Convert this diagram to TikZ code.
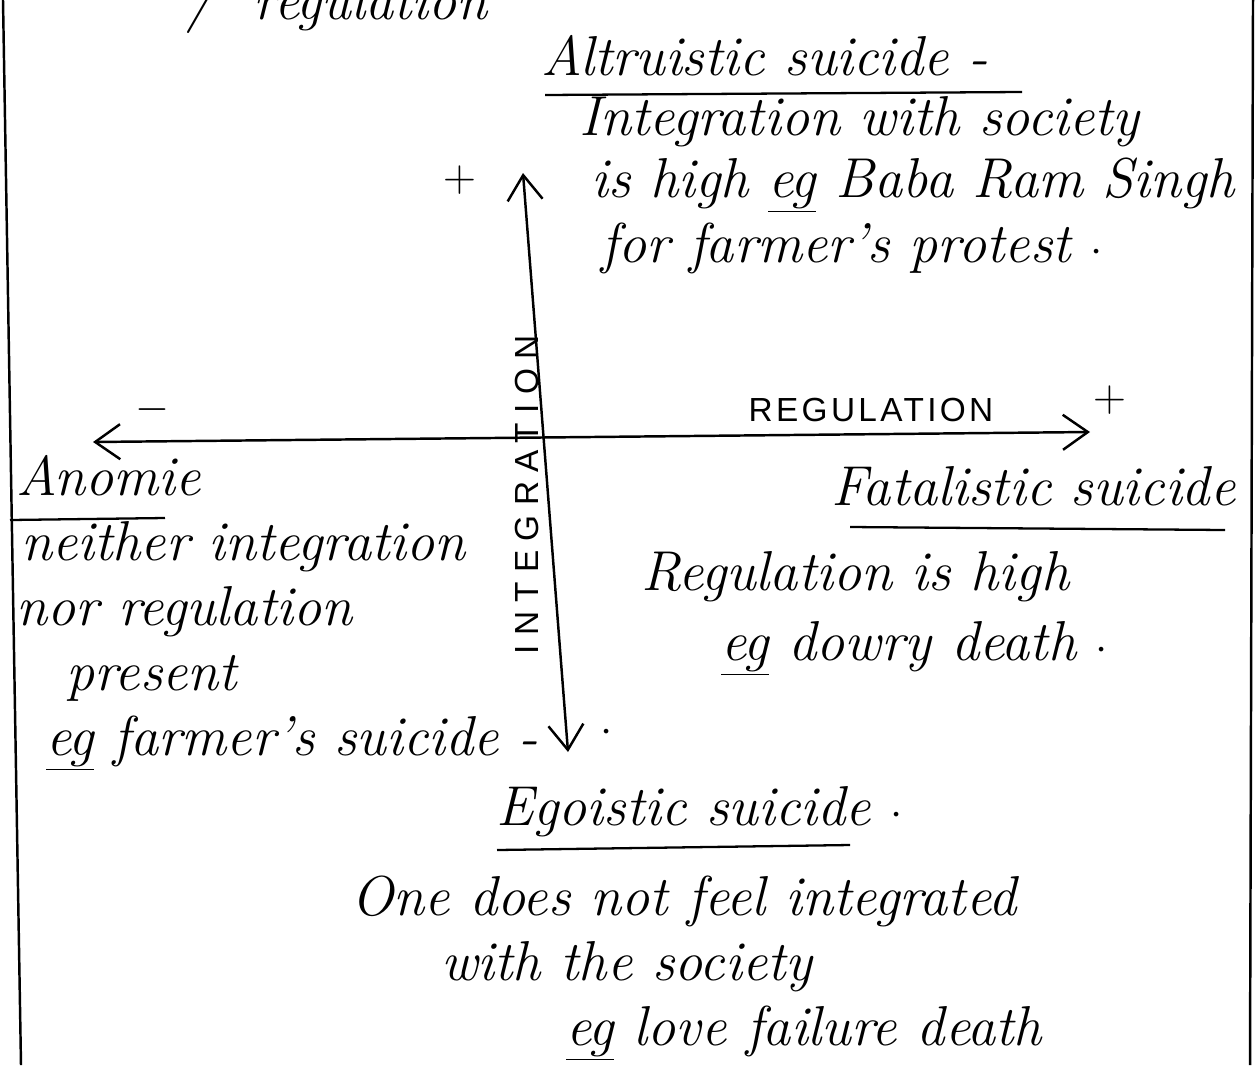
\documentclass[tikz,border=0pt]{standalone}
\usepackage{fontspec}
\usetikzlibrary{arrows.meta,calc,positioning}
\newfontfamily\axisfont{Liberation Sans}

\tikzset{
  hand/.style={anchor=base west,inner sep=0pt,font=\itshape\fontsize{32}{38}\selectfont},
  axislabel/.style={inner sep=0pt,font=\axisfont\fontsize{19}{23}\selectfont},
  sign/.style={inner sep=0pt,font=\fontsize{26}{30}\selectfont},
  uline/.style={line width=1.3pt,-}
}

\begin{document}
\begin{tikzpicture}[x=0.02cm,y=-0.02cm,line width=1.4pt,>={Straight Barb[length=5mm,width=7mm]}]
		\useasboundingbox (0,0) rectangle (1256,1065);
		% page edges
		\draw (3,0) -- (21,1065);
		\draw (1253,0) -- (1250,1065);
		% cut off line at the top
		\node[hand] (top) at (185,19) {/ \ regulation};

		% axes
		\coordinate (itop) at (523,173);
		\coordinate (ibot) at (568,752);
		\coordinate (rleft) at (93,442);
		\coordinate (rright) at (1090,432);
		\draw[<->] (ibot) -- (itop);
		\draw[<->] (rleft) -- (rright);
		\node[axislabel,rotate=90] (integ) at (527,495) {\addfontfeature{LetterSpace=28}INTEGRATION};
		\node[axislabel] (regul) at (871,410) {\addfontfeature{LetterSpace=10}REGULATION};
		\node[sign] (iplus) at (460,180) {+};
		\node[sign] (rplus) at (1110,400) {+};
		\node[sign,font=\fontsize{36}{40}\selectfont] (rminus) at (152,410) {$-$};
		\node[sign] (dot) at (607,733) {$\cdot$};

		% altruistic
		\node[hand] (alt) at (540,75) {Altruistic suicide -};
		\draw[uline] (545,95) -- (1022,92);
		\node[hand] (alt1) at (578,135) {Integration with society};
		\node[hand] (alt2) at (590,197) {is high \underline{eg} Baba Ram Singh};
		\node[hand] (alt3) at (600,262) {for farmer's protest $\cdot$};

		% anomie
		\node[hand] (anom) at (15,495) {Anomie};
		\draw[uline] (10,520) -- (165,518);
		\node[hand] (anom1) at (20,560) {neither integration};
		\node[hand] (anom2) at (15,625) {nor regulation};
		\node[hand] (anom3) at (65,690) {present};
		\node[hand] (anom4) at (45,755) {\underline{eg} farmer's suicide -};

		% fatalistic
		\node[hand] (fat) at (830,505) {Fatalistic suicide};
		\draw[uline] (850,527) -- (1225,530);
		\node[hand] (fat1) at (640,590) {Regulation is high};
		\node[hand] (fat2) at (720,660) {\underline{eg} dowry death $\cdot$};

		% egoistic
		\node[hand] (ego) at (495,825) {Egoistic suicide $\cdot$};
		\draw[uline] (497,850) -- (850,845);
		\node[hand] (ego1) at (350,915) {One does not feel integrated};
		\node[hand] (ego2) at (440,980) {with the society};
		\node[hand] (ego3) at (565,1045) {\underline{eg} love failure death};
\end{tikzpicture}
\end{document}
